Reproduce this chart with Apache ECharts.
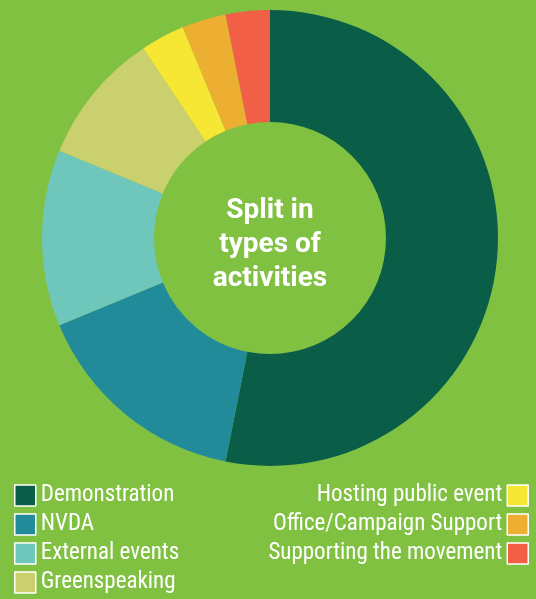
<!DOCTYPE html>
<html>
<head>
<meta charset="utf-8">
<script src="https://cdn.jsdelivr.net/npm/echarts@6/dist/echarts.min.js"></script>
<style>
  html, body { margin: 0; padding: 0; background: #80c142; }
  #chart { width: 536px; height: 599px; }
</style>
</head>
<body>
<div id="chart"></div>
<script>
// activity categories and counts
const categories = ['Demonstration', 'NVDA', 'External events', 'Greenspeaking',
  'Hosting public event', 'Office/Campaign Support', 'Supporting the movement']
const counts = [17, 5, 4, 3, 1, 1, 1]
const colors = ['#0a5e48', '#218b9a', '#6fc6bb', '#cbd06e', '#f5e733', '#ecaf32', '#f05f46']
const leftLegend = categories.slice(0, 4)
const rightLegend = categories.slice(4)

const chart = echarts.init(document.getElementById('chart'))

const legendBase = {
  orient: 'vertical',
  top: 484,
  height: 120,
  padding: 0,
  itemWidth: 21,
  itemHeight: 21,
  itemGap: 6,
  icon: 'rect',
  itemStyle: {borderColor: '#fff', borderWidth: 1.5},
  textStyle: {
    color: '#fff',
    fontSize: 23,
    fontFamily: '"Liberation Sans Narrow", "Roboto Condensed", Roboto, sans-serif'
  },
  selectedMode: false
}

chart.setOption({
  backgroundColor: '#80c142',
  color: colors,
  animation: false,
  legend: [
    Object.assign({}, legendBase, {left: 14, data: leftLegend}),
    Object.assign({}, legendBase, {right: 7, align: 'right', data: rightLegend})
  ],
  graphic: [{
    type: 'text',
    x: 270,
    y: 245,
    style: {
      text: 'Split in\ntypes of\nactivities',
      fill: '#fff',
      font: 'bold 28px Roboto, sans-serif',
      lineHeight: 34,
      textAlign: 'center',
      textVerticalAlign: 'middle'
    }
  }],
  series: [{
    type: 'pie',
    center: [270, 238],
    radius: [116, 228],
    startAngle: 90,
    clockwise: true,
    label: {show: false},
    labelLine: {show: false},
    emphasis: {disabled: true},
    data: categories.map((name, i) => ({name: name, value: counts[i]}))
  }]
})
</script>
</body>
</html>
